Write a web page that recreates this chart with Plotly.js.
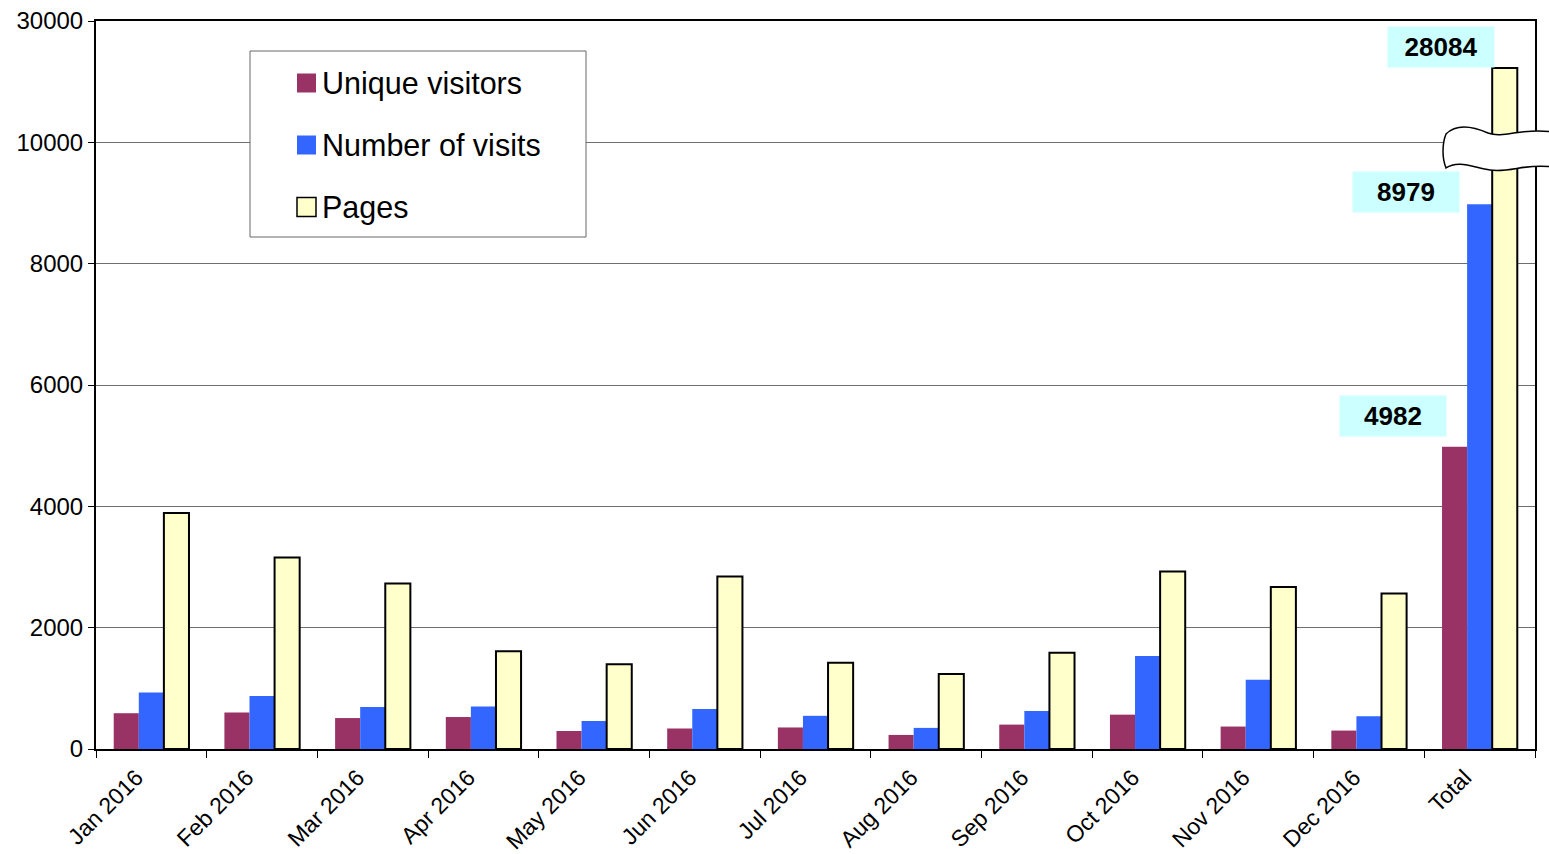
<!DOCTYPE html>
<html>
<head>
<meta charset="utf-8">
<script src="https://cdn.plot.ly/plotly-3.0.1.min.js"></script>
<style>
  html, body { margin: 0; padding: 0; background: #ffffff; }
  #chart { width: 1549px; height: 854px; }
</style>
</head>
<body>
<div id="chart"></div>
<script>
// ---- data ----
const categories = ["Jan 2016", "Feb 2016", "Mar 2016", "Apr 2016", "May 2016", "Jun 2016",
                    "Jul 2016", "Aug 2016", "Sep 2016", "Oct 2016", "Nov 2016", "Dec 2016", "Total"];
const seriesNames = ["Unique visitors", "Number of visits", "Pages"];
const uniqueVisitors = [590, 600, 510, 527, 297, 338, 355, 232, 402, 566, 370, 304, 4982];
const numberOfVisits = [930, 873, 692, 700, 462, 660, 547, 348, 627, 1534, 1143, 540, 8979];
const pages = [3891, 3158, 2729, 1610, 1397, 2845, 1420, 1237, 1585, 2925, 2671, 2562, 28084];
const yTickValues = [0, 2000, 4000, 6000, 8000, 10000, 30000];
const labelledTotals = [4982, 8979, 28084];

// ---- broken axis: values above BREAK_AT are compressed ----
const BREAK_AT = 10000;
const BREAK_SCALE = 0.0678;
function toAxis(v) { return v <= BREAK_AT ? v : BREAK_AT + (v - BREAK_AT) * BREAK_SCALE; }
// axis tick positions: 30000 is shown at the top of the axis (12000 in axis units)
const tickPositions = yTickValues.map(v => v <= BREAK_AT ? v : 12000);

const colors = ["#993366", "#3366FF", "#FFFFCC"];
const FONT = "Arial, 'Liberation Sans', sans-serif";

function barTrace(name, vals, color, line) {
  return {
    type: "bar",
    name: name,
    x: categories,
    y: vals.map(toAxis),
    customdata: vals,
    hovertemplate: "%{x}<br>" + name + ": %{customdata}<extra></extra>",
    marker: { color: color, line: line },
    showlegend: false
  };
}

const data = [
  barTrace(seriesNames[0], uniqueVisitors, colors[0], { width: 0 }),
  barTrace(seriesNames[1], numberOfVisits, colors[1], { width: 0 }),
  barTrace(seriesNames[2], pages, colors[2], { width: 2, color: "#000000" })
];

// ---- pixel helpers for decorations ----
const W = 1549, H = 854;
const M = { l: 96, r: 14, t: 21, b: 105 };
const PW = W - M.l - M.r, PH = H - M.t - M.b;
const px = x => (x - M.l) / PW;
const py = y => (H - M.b - y) / PH;

// custom legend (box + swatches + labels)
const shapes = [];
const annotations = [];
shapes.push({ type: "rect", xref: "paper", yref: "paper",
  x0: px(250), x1: px(586), y0: py(237), y1: py(51),
  fillcolor: "#ffffff", line: { color: "#666666", width: 1 }, layer: "above" });
const rowY = [83, 145, 207];
seriesNames.forEach((n, i) => {
  shapes.push({ type: "rect", xref: "paper", yref: "paper",
    x0: px(297), x1: px(316), y0: py(rowY[i] + 9.5), y1: py(rowY[i] - 9.5),
    fillcolor: colors[i],
    line: { color: i === 2 ? "#000000" : colors[i], width: i === 2 ? 1.5 : 0 }, layer: "above" });
  annotations.push({ xref: "paper", yref: "paper", x: px(320), y: py(rowY[i]),
    xanchor: "left", yanchor: "middle", showarrow: false, text: n,
    font: { family: FONT, size: 30.5, color: "#000000" } });
});

// axis break symbol (wavy white band)
function P(x, y) { return px(x).toFixed(5) + "," + py(y).toFixed(5); }
const breakPath =
  "M" + P(1446, 134) +
  " C" + P(1456, 124) + " " + P(1472, 126) + " " + P(1488, 133) +
  " C" + P(1504, 139) + " " + P(1522, 127) + " " + P(1552, 132) +
  " L" + P(1552, 167) +
  " C" + P(1526, 163) + " " + P(1510, 173) + " " + P(1490, 170) +
  " C" + P(1472, 167) + " " + P(1458, 160) + " " + P(1446, 168) +
  " C" + P(1442, 158) + " " + P(1442, 144) + " " + P(1446, 134) + " Z";
shapes.push({ type: "path", xref: "paper", yref: "paper", path: breakPath,
  fillcolor: "#ffffff", line: { color: "#000000", width: 1.5 }, layer: "above" });

// value labels for the totals
const labelShift = [{ xs: -87, ys: 31 }, { xs: -74, ys: 12 }, { xs: -39, ys: 21 }];
const totalsSeries = [uniqueVisitors, numberOfVisits, pages];
totalsSeries.forEach((s, i) => {
  const v = s[s.length - 1];
  annotations.push({
    x: categories[categories.length - 1], y: toAxis(v), xref: "x", yref: "y",
    xshift: labelShift[i].xs, yshift: labelShift[i].ys,
    xanchor: "center", yanchor: "middle", showarrow: false,
    text: "<b>" + labelledTotals[i] + "</b>",
    width: 104, height: 38, bgcolor: "#CCFFFF", borderpad: 1,
    font: { family: FONT, size: 26, color: "#000000" }
  });
});

const layout = {
  width: W, height: H,
  margin: M,
  paper_bgcolor: "#ffffff", plot_bgcolor: "#ffffff",
  barmode: "group", bargap: 0.32, bargroupgap: 0,
  font: { family: FONT, size: 23, color: "#000000" },
  showlegend: false,
  xaxis: {
    type: "category",
    tickangle: -45,
    tickson: "boundaries",
    ticks: "outside", ticklen: 7, tickcolor: "#000000", tickwidth: 1,
    ticklabelshift: -15, ticklabelstandoff: 4,
    showline: true, linecolor: "#000000", linewidth: 2, mirror: true,
    showgrid: false, zeroline: false,
    tickfont: { family: FONT, size: 23, color: "#000000" }
  },
  yaxis: {
    range: [0, 12000],
    tickmode: "array", tickvals: tickPositions, ticktext: yTickValues.map(String),
    ticks: "outside", ticklen: 6, tickcolor: "#000000", tickwidth: 1,
    showline: true, linecolor: "#000000", linewidth: 2, mirror: true,
    showgrid: true, gridcolor: "#6e6e6e", gridwidth: 1,
    zeroline: false,
    tickfont: { family: FONT, size: 24, color: "#000000" }
  },
  shapes: shapes,
  annotations: annotations
};

Plotly.newPlot("chart", data, layout, { displayModeBar: false, staticPlot: false });
</script>
</body>
</html>
